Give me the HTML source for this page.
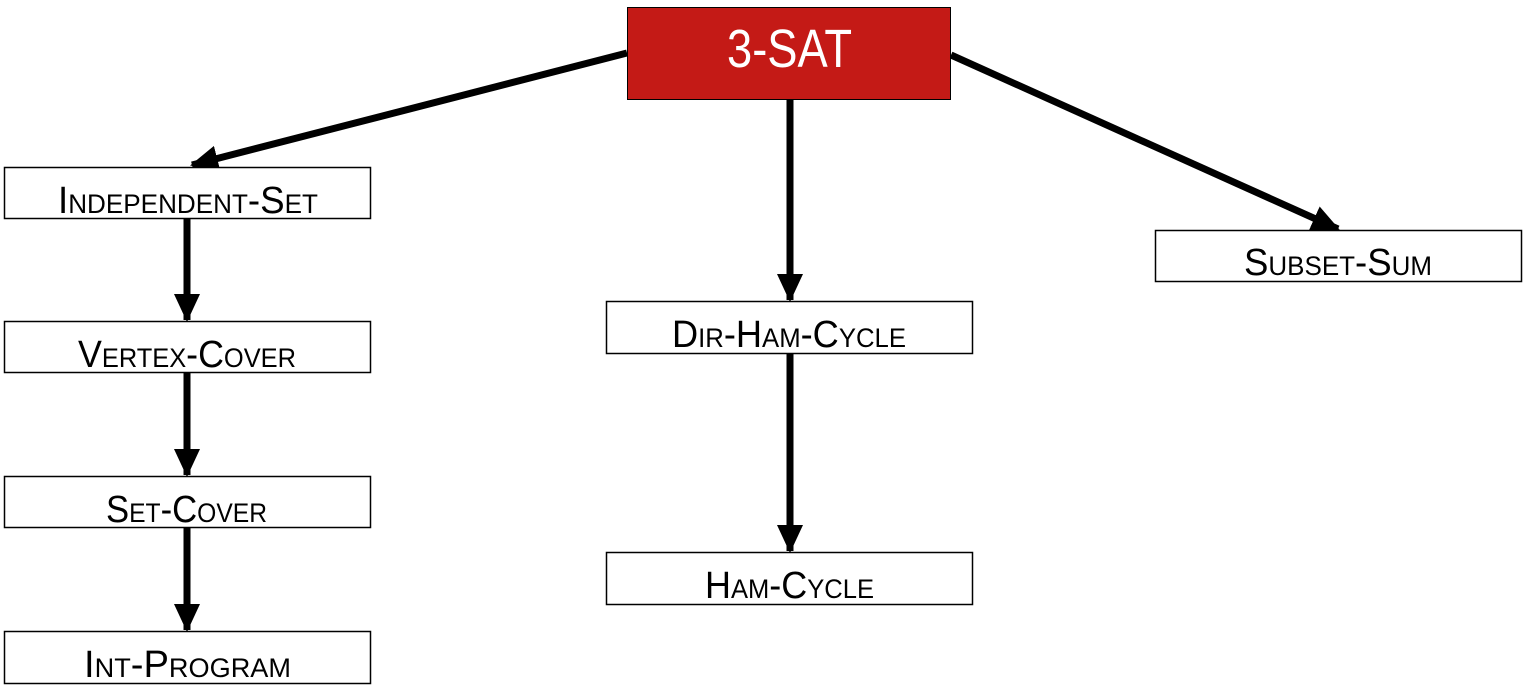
<!DOCTYPE html>
<html><head><style>body{margin:0;background:#fff}</style></head><body>
<svg width="1524" height="687" xmlns="http://www.w3.org/2000/svg" style="display:block">
<defs><marker id="a" markerUnits="userSpaceOnUse" markerWidth="30" markerHeight="26" refX="26" refY="13" orient="auto"><path d="M0,0 L28,13 L0,26 z" fill="#000"/></marker></defs>
<g stroke="#000" stroke-width="7" fill="none" marker-end="url(#a)">
<line x1="627" y1="53" x2="192" y2="165"/>
<line x1="790" y1="100" x2="790" y2="300"/>
<line x1="951" y1="55" x2="1338" y2="229"/>
<line x1="187" y1="218" x2="187" y2="320"/>
<line x1="187" y1="372" x2="187" y2="475"/>
<line x1="187" y1="527" x2="187" y2="630"/>
<line x1="790" y1="353" x2="790" y2="551"/>
</g>
<rect x="627.5" y="7.5" width="323" height="92" fill="#C41A16" stroke="#000" stroke-width="1"/>
<g fill="#fff" stroke="#000" stroke-width="1.5">
<rect x="4.5" y="167.5" width="366" height="51"/>
<rect x="4.5" y="321.5" width="366" height="51"/>
<rect x="4.5" y="476.5" width="366" height="51"/>
<rect x="4.5" y="631.5" width="366" height="52"/>
<rect x="606.5" y="301.5" width="366" height="52"/>
<rect x="606.5" y="552.5" width="366" height="52"/>
<rect x="1155.5" y="230.5" width="366" height="51"/>
</g>
<text x="727" y="67" font-family="Liberation Sans, sans-serif" font-size="54" fill="#fff" textLength="125" lengthAdjust="spacingAndGlyphs">3-SAT</text>
<g font-family="Liberation Sans, sans-serif" font-size="38" font-variant="small-caps" fill="#000" lengthAdjust="spacingAndGlyphs">
<text x="58" y="213" textLength="260" lengthAdjust="spacingAndGlyphs">Independent-Set</text>
<text x="78" y="367" textLength="218" lengthAdjust="spacingAndGlyphs">Vertex-Cover</text>
<text x="106" y="522" textLength="161" lengthAdjust="spacingAndGlyphs">Set-Cover</text>
<text x="84" y="677" textLength="207" lengthAdjust="spacingAndGlyphs">Int-Program</text>
<text x="672" y="347" textLength="234" lengthAdjust="spacingAndGlyphs">Dir-Ham-Cycle</text>
<text x="705" y="598" textLength="169" lengthAdjust="spacingAndGlyphs">Ham-Cycle</text>
<text x="1244" y="275" textLength="188" lengthAdjust="spacingAndGlyphs">Subset-Sum</text>
</g>
</svg>
</body></html>
